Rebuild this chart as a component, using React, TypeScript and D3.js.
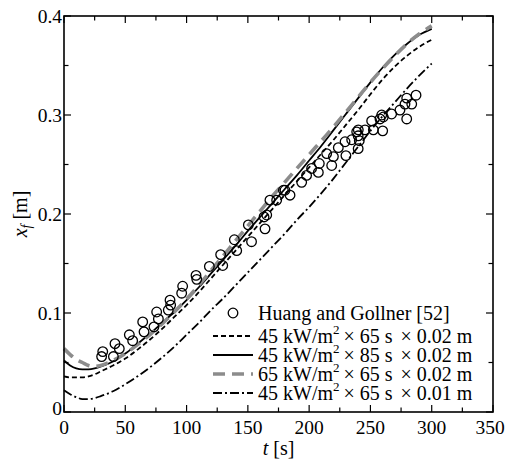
import React from "react";
import * as d3 from "d3";

const W = 507;
const H = 465;
const M = { left: 64, right: 14, top: 16, bottom: 53 };

const xTicks = [0, 50, 100, 150, 200, 250, 300, 350];
const yTicks = [0, 0.1, 0.2, 0.3, 0.4];
const yTickLabels = ["0", "0.1", "0.2", "0.3", "0.4"];

// Experimental data (Huang and Gollner [52])
const expT = [30.7, 31.6, 40.3, 41.6, 45.1, 53.3, 56, 64.2, 65.3, 73.4, 75.6, 77, 86.5, 87, 85.1, 96.8, 96, 107.7, 108.3, 118.6, 127.8, 129.5, 139, 140.9, 153, 150.4, 163.2, 164, 168, 165.4, 173.5, 179, 180.3, 184.4, 193.9, 197.9, 202, 207.5, 208.3, 214.3, 218.4, 219.8, 223.8, 229.3, 230, 234.7, 238.8, 240.1, 240, 240.9, 240, 245.6, 251, 252.4, 257.8, 259.2, 260.5, 260, 267.3, 274.1, 278.2, 279.6, 279.6, 283.7, 287.2];
const expX = [0.056, 0.061, 0.056, 0.069, 0.064, 0.078, 0.072, 0.091, 0.081, 0.086, 0.101, 0.094, 0.113, 0.108, 0.103, 0.127, 0.12, 0.138, 0.134, 0.147, 0.159, 0.148, 0.174, 0.163, 0.172, 0.189, 0.197, 0.185, 0.214, 0.199, 0.214, 0.224, 0.224, 0.219, 0.232, 0.239, 0.246, 0.242, 0.251, 0.261, 0.249, 0.258, 0.267, 0.273, 0.259, 0.275, 0.283, 0.285, 0.279, 0.274, 0.266, 0.285, 0.294, 0.285, 0.296, 0.3, 0.298, 0.284, 0.301, 0.305, 0.311, 0.296, 0.317, 0.311, 0.32];

const simT = [0, 5, 10, 15, 20, 25, 30, 40, 50, 60, 70, 80, 90, 100, 110, 120, 130, 140, 150, 160, 170, 180, 190, 200, 210, 220, 230, 240, 250, 260, 270, 280, 290, 300];
// 45 kW/m2 x 65 s x 0.02 m (dashed)
const sDashed = [0.036, 0.035, 0.035, 0.035, 0.036, 0.038, 0.041, 0.047, 0.054, 0.063, 0.073, 0.084, 0.096, 0.108, 0.121, 0.135, 0.149, 0.163, 0.177, 0.191, 0.205, 0.219, 0.233, 0.247, 0.261, 0.275, 0.29, 0.305, 0.321, 0.336, 0.349, 0.36, 0.369, 0.376];
// 45 kW/m2 x 85 s x 0.02 m (solid)
const sSolid = [0.052, 0.047, 0.044, 0.043, 0.043, 0.044, 0.046, 0.051, 0.059, 0.069, 0.079, 0.09, 0.101, 0.113, 0.126, 0.14, 0.154, 0.168, 0.183, 0.197, 0.211, 0.225, 0.239, 0.254, 0.269, 0.285, 0.301, 0.317, 0.333, 0.348, 0.361, 0.372, 0.381, 0.387];
// 65 kW/m2 x 65 s x 0.02 m (gray dashed)
const sGray = [0.064, 0.058, 0.053, 0.05, 0.047, 0.046, 0.047, 0.052, 0.059, 0.068, 0.078, 0.089, 0.101, 0.114, 0.128, 0.143, 0.158, 0.173, 0.188, 0.203, 0.218, 0.232, 0.246, 0.26, 0.274, 0.288, 0.303, 0.318, 0.333, 0.347, 0.36, 0.372, 0.382, 0.39];
// 45 kW/m2 x 65 s x 0.01 m (dash-dot)
const sDashDot = [0.022, 0.018, 0.015, 0.013, 0.013, 0.014, 0.016, 0.021, 0.028, 0.036, 0.045, 0.055, 0.066, 0.078, 0.09, 0.103, 0.115, 0.128, 0.141, 0.154, 0.167, 0.18, 0.194, 0.207, 0.221, 0.236, 0.252, 0.268, 0.284, 0.299, 0.313, 0.327, 0.34, 0.352];

const seriesLabels = ["65 s", "85 s", "65 s", "65 s"];
const seriesFlux = ["45", "45", "65", "45"];
const seriesThick = ["0.02 m", "0.02 m", "0.02 m", "0.01 m"];

const styles = [
  { stroke: "#000", width: 1.8, dash: "5,3" },
  { stroke: "#000", width: 1.8, dash: "" },
  { stroke: "#8c8c8c", width: 3.6, dash: "12,7" },
  { stroke: "#000", width: 1.8, dash: "9,3,2,3" },
];

const FAM = '"Liberation Serif"';
const FF = { fontFamily: FAM };

export default function App() {
  const x = d3.scaleLinear().domain([0, 350]).range([M.left, W - M.right]);
  const y = d3.scaleLinear().domain([0, 0.4]).range([H - M.bottom, M.top]);
  const line = d3
    .line<[number, number]>()
    .x((d) => x(d[0]))
    .y((d) => y(d[1]))
    .curve(d3.curveMonotoneX);
  const series = [sDashed, sSolid, sGray, sDashDot];
  const x0 = M.left, x1 = W - M.right, y0 = H - M.bottom, y1 = M.top;
  const xMinor = d3.range(25, 350, 50);
  const yMinor = d3.range(0.05, 0.4, 0.1);

  const legX0 = 213, legX1 = 253, legTx = 258;
  const legRows = [336, 355, 374, 393];

  return (
    <svg width={W} height={H} style={{ position: "absolute", left: 0, top: 0 }}>
      <style>{`text, tspan { font-family: "Liberation Serif", "Times New Roman", Times, serif !important; }`}</style>
      <rect width={W} height={H} fill="#fff" />
      {series.map((s, i) => (
        <path
          key={i}
          d={line(simT.map((t, j) => [t, s[j]] as [number, number])) || ""}
          fill="none"
          stroke={styles[i].stroke}
          strokeWidth={styles[i].width}
          strokeDasharray={styles[i].dash}
        />
      ))}
      {expT.map((t, i) => (
        <circle key={i} cx={x(t)} cy={y(expX[i])} r={4.8} fill="none" stroke="#000" strokeWidth={1.3} />
      ))}
      <rect x={x0} y={y1} width={x1 - x0} height={y0 - y1} fill="none" stroke="#000" strokeWidth={1.6} />
      {xTicks.map((t) => (
        <g key={"xt" + t}>
          <line x1={x(t)} x2={x(t)} y1={y0} y2={y0 - 7} stroke="#000" strokeWidth={1.2} />
          <line x1={x(t)} x2={x(t)} y1={y1} y2={y1 + 7} stroke="#000" strokeWidth={1.2} />
        </g>
      ))}
      {xTicks.map((t) => (
        <text key={"xl" + t} x={t === 350 ? x(t) - 3 : x(t)} y={y0 + 22} fontSize={19.5} textAnchor="middle" fontFamily={FAM} style={FF}>{t}</text>
      ))}
      {xMinor.map((t) => (
        <g key={"xm" + t}>
          <line x1={x(t)} x2={x(t)} y1={y0} y2={y0 - 4.5} stroke="#000" strokeWidth={1.2} />
          <line x1={x(t)} x2={x(t)} y1={y1} y2={y1 + 4.5} stroke="#000" strokeWidth={1.2} />
        </g>
      ))}
      {yTicks.map((v) => (
        <g key={"yt" + v}>
          <line x1={x0} x2={x0 + 7} y1={y(v)} y2={y(v)} stroke="#000" strokeWidth={1.2} />
          <line x1={x1} x2={x1 - 7} y1={y(v)} y2={y(v)} stroke="#000" strokeWidth={1.2} />
        </g>
      ))}
      {yTicks.map((v, i) => (
        <text key={"yl" + v} x={x0 - 2} y={v === 0 ? y(v) + 3 : y(v) + 7} fontSize={19.5} textAnchor="end" fontFamily={FAM} style={FF}>{yTickLabels[i]}</text>
      ))}
      {yMinor.map((v) => (
        <g key={"ym" + v}>
          <line x1={x0} x2={x0 + 4.5} y1={y(v)} y2={y(v)} stroke="#000" strokeWidth={1.2} />
          <line x1={x1} x2={x1 - 4.5} y1={y(v)} y2={y(v)} stroke="#000" strokeWidth={1.2} />
        </g>
      ))}
      <text x={(x0 + x1) / 2} y={455} fontSize={20} textAnchor="middle" fontFamily={FAM} style={FF}>
        <tspan fontStyle="italic">t</tspan> [s]
      </text>
      <text transform={`translate(27, ${(y0 + y1) / 2}) rotate(-90)`} fontSize={20} textAnchor="middle" fontFamily={FAM} style={FF}>
        <tspan fontStyle="italic">x</tspan>
        <tspan fontStyle="italic" fontSize={14} dy={4}>f</tspan>
        <tspan dy={-4}> [m]</tspan>
      </text>
      <circle cx={233} cy={313} r={4.8} fill="none" stroke="#000" strokeWidth={1.3} />
      <text x={legTx} y={320} fontSize={20} fontFamily={FAM} style={FF}>Huang and Gollner [52]</text>
      {legRows.map((ry, i) => (
        <line key={"ll" + i} x1={legX0} x2={legX1} y1={ry} y2={ry} stroke={styles[i].stroke} strokeWidth={styles[i].width} strokeDasharray={styles[i].dash} />
      ))}
      {legRows.map((ry, i) => (
        <text key={"lt" + i} x={legTx} y={ry + 7} fontSize={20} fontFamily={FAM} style={FF}>
          {seriesFlux[i] + " kW/m"}
          <tspan fontSize={13} dy={-9}>2</tspan>
          <tspan dy={9} dx={4}>{"× " + seriesLabels[i] + " "}</tspan>
          <tspan dx={3}>{"× " + seriesThick[i]}</tspan>
        </text>
      ))}
    </svg>
  );
}
